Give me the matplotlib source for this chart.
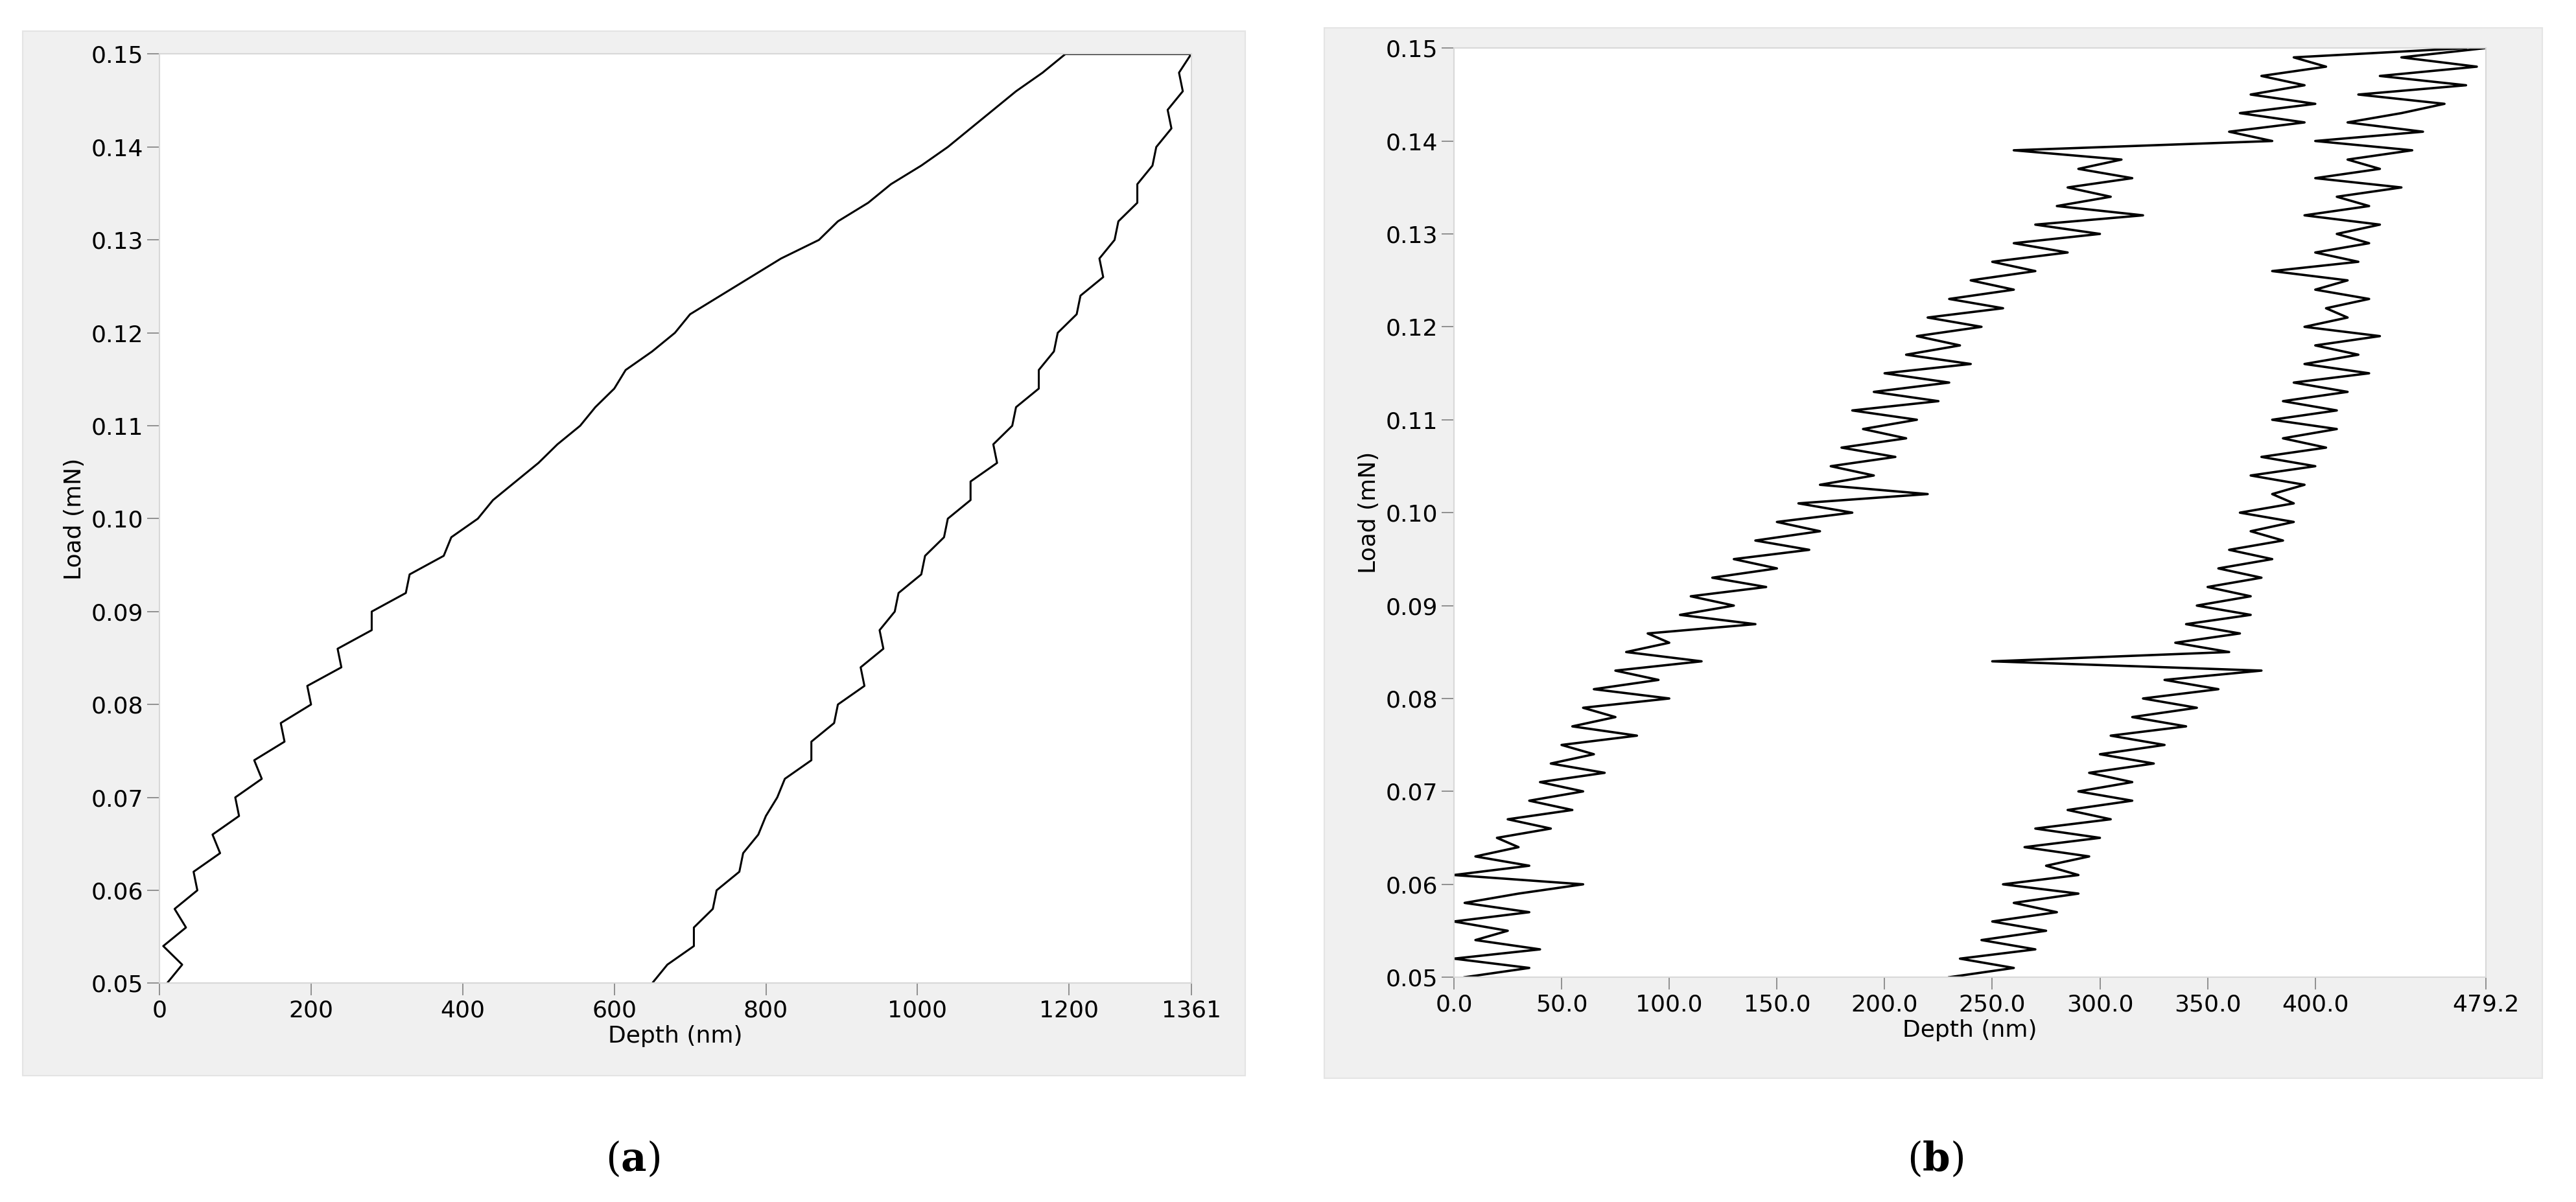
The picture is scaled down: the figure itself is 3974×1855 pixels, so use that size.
import matplotlib
matplotlib.use("Agg")
import matplotlib.pyplot as plt
import numpy as np
from matplotlib.patches import Rectangle
from matplotlib import font_manager

plt.rcParams["mathtext.fontset"] = "dejavuserif"

# ---- data (a) ----
load_up_a = [0.050,0.052,0.054,0.056,0.058,0.060,0.062,0.064,0.066,0.068,0.070,0.072,0.074,0.076,0.078,
             0.080,0.082,0.084,0.086,0.088,0.090,0.092,0.094,0.096,0.098,0.100,0.102,0.104,0.106,0.108,
             0.110,0.112,0.114,0.116,0.118,0.120,0.122,0.124,0.126,0.128,0.130,0.132,0.134,0.136,0.138,
             0.140,0.142,0.144,0.146,0.148,0.150,0.150]
depth_up_a = [10,30,5,35,20,50,45,80,70,105,100,135,125,165,160,
              200,195,240,235,280,280,325,330,375,385,420,440,470,500,525,
              555,575,600,615,650,680,700,740,780,820,870,895,935,965,1005,
              1040,1070,1100,1130,1165,1195,1361]
load_dn_a = [0.150,0.148,0.146,0.144,0.142,0.140,0.138,0.136,0.134,0.132,0.130,0.128,0.126,0.124,0.122,
             0.120,0.118,0.116,0.114,0.112,0.110,0.108,0.106,0.104,0.102,0.100,0.098,0.096,0.094,0.092,
             0.090,0.088,0.086,0.084,0.082,0.080,0.078,0.076,0.074,0.072,0.070,0.068,0.066,0.064,0.062,
             0.060,0.058,0.056,0.054,0.052,0.050]
depth_dn_a = [1361,1345,1350,1330,1335,1315,1310,1290,1290,1265,1260,1240,1245,1215,1210,
              1185,1180,1160,1160,1130,1125,1100,1105,1070,1070,1040,1035,1010,1005,975,
              970,950,955,925,930,895,890,860,860,825,815,800,790,770,765,
              735,730,705,705,670,650]
xticks_a = [0,200,400,600,800,1000,1200,1361]

# ---- data (b) : sampled every 0.001 mN ----
load_up_b = np.linspace(0.050, 0.150, 101)
depth_up_b = [5,35,0,40,10,25,0,35,5,30,
              60,0,35,10,30,20,45,25,55,35,
              60,40,70,45,65,50,85,55,75,60,
              100,65,95,75,115,80,100,90,140,105,
              130,110,145,120,150,130,165,140,170,150,
              185,160,220,170,195,175,205,180,210,190,
              215,185,225,195,230,200,240,210,235,215,
              245,220,255,230,260,240,270,250,285,260,
              300,270,320,280,305,285,315,290,310,260,
              380,360,395,365,400,370,395,375,405,390,470]
load_dn_b = np.linspace(0.150, 0.050, 101)
depth_dn_b = [479,440,475,430,470,420,460,440,415,450,
              400,445,415,430,400,440,410,425,395,430,
              410,425,400,420,380,415,400,425,405,415,
              395,430,400,420,395,425,390,415,385,410,
              380,410,385,405,375,400,370,395,380,390,
              365,390,370,385,360,380,355,375,350,370,
              345,370,340,365,335,360,250,375,330,355,
              320,345,315,340,305,330,300,325,295,315,
              290,315,285,305,270,300,265,295,275,290,
              255,290,260,280,250,275,245,270,235,260,230]
xticks_b = [0.0,50.0,100.0,150.0,200.0,250.0,300.0,350.0,400.0,479.2]

names = {f.name for f in font_manager.fontManager.ttflist}
sans = ["Liberation Sans Narrow", "DejaVu Sans"] if "Liberation Sans Narrow" in names else ["DejaVu Sans"]
narrow = sans[0] == "Liberation Sans Narrow"
fs = 34 if narrow else 26

W, H = 3974, 1855
fig = plt.figure(figsize=(W/100, H/100), dpi=100)
fig.patch.set_facecolor("white")

for (x0, y0, x1, y1) in [(0.0089, 0.105, 0.4834, 0.974), (0.514, 0.103, 0.987, 0.977)]:
    fig.patches.append(Rectangle((x0, y0), x1-x0, y1-y0, transform=fig.transFigure,
                                 facecolor="#f0f0f0", edgecolor="#e4e4e4", lw=1.5, zorder=-10))

yticks = [0.05,0.06,0.07,0.08,0.09,0.10,0.11,0.12,0.13,0.14,0.15]

def setup(ax, xlim, xticks, fmt):
    ax.set_xlim(*xlim)
    ax.set_ylim(0.05, 0.15)
    ax.set_xticks(xticks)
    ax.set_xticklabels([fmt(v) for v in xticks], fontsize=fs, family=sans)
    ax.set_yticks(yticks)
    ax.set_yticklabels(["%.2f" % v for v in yticks], fontsize=fs, family=sans)
    ax.set_xlabel("Depth (nm)", fontsize=fs, family=sans, labelpad=4)
    ax.set_ylabel("Load (mN)", fontsize=fs, family=sans, labelpad=6)
    ax.tick_params(direction="out", length=14, width=1.2, pad=4, color="#808080")
    for s in ax.spines.values():
        s.set_linewidth(1.5)
        s.set_color("#d8d8d8")

axa = fig.add_axes([0.0619, 0.182, 0.4005, 0.773])
axa.plot(depth_up_a, load_up_a, color="black", lw=2.2)
axa.plot(depth_dn_a, load_dn_a, color="black", lw=2.2)
setup(axa, (0, 1361), xticks_a, lambda v: "%d" % v)

axb = fig.add_axes([0.5644, 0.187, 0.4006, 0.773])
axb.plot(depth_up_b, load_up_b, color="black", lw=2.6)
axb.plot(depth_dn_b, load_dn_b, color="black", lw=2.6)
setup(axb, (0, 479.2), xticks_b, lambda v: "%.1f" % v)

fig.text(0.2456, 0.035, r"($\mathbf{a}$)", ha="center", va="center", fontsize=44, family="DejaVu Serif")
fig.text(0.7513, 0.035, r"($\mathbf{b}$)", ha="center", va="center", fontsize=44, family="DejaVu Serif")

fig.savefig("out.png", dpi=100)
